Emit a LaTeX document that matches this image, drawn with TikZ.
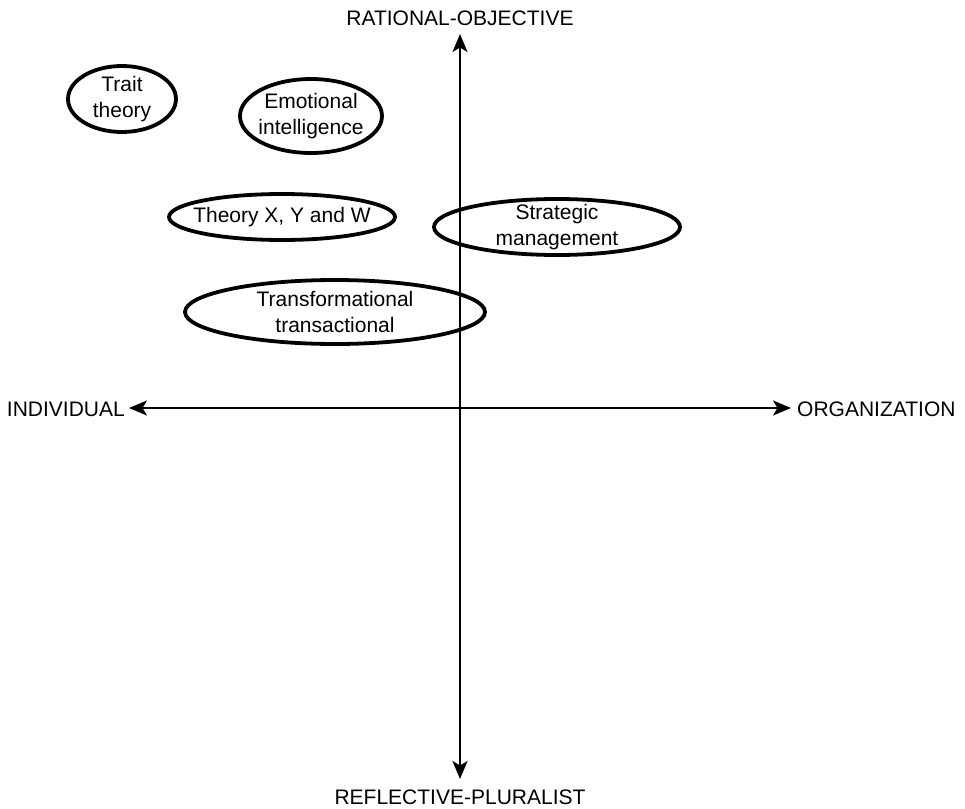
\documentclass[tikz,border=0pt]{standalone}
\usepackage{fontspec}
\setmainfont{Liberation Sans}
\usetikzlibrary{arrows.meta}
\begin{document}
\begin{tikzpicture}[x=1pt,y=-1pt,
  lbl/.style={font=\fontsize{21}{26}\selectfont, inner sep=0pt},
  txt/.style={inner sep=0pt, align=center, font=\fontsize{21}{26}\selectfont},
  ring/.style={line width=3.8pt},
  axis/.style={line width=2.2pt, -{Stealth[length=18pt,width=15pt,inset=4.5pt]}}]
\useasboundingbox (0,0) rectangle (965,808);
% axes
\coordinate (c) at (460,408);
\coordinate (top) at (460,34);
\coordinate (bot) at (460,779);
\coordinate (lft) at (129,408);
\coordinate (rgt) at (791,408);
\draw[axis] (c) -- (top);
\draw[axis] (c) -- (bot);
\draw[axis] (c) -- (lft);
\draw[axis] (c) -- (rgt);
% axis labels
\node[lbl] (ro) at (460,18) {RATIONAL-OBJECTIVE};
\node[lbl] (rp) at (460,797) {REFLECTIVE-PLURALIST};
\node[lbl, anchor=east] (ind) at (125,409) {INDIVIDUAL};
\node[lbl, anchor=west] (org) at (797,409) {ORGANIZATION};
% theories, each text inside its own ellipse
\node[txt] (trait) at (122,99) {Trait\\theory};
\draw[ring] (trait.center) ellipse [x radius=54, y radius=33];
\node[txt] (ei) at (311,116) {Emotional\\intelligence};
\draw[ring] (ei.center) ellipse [x radius=71, y radius=37];
\node[txt] (xyw) at (282,217) {Theory X, Y and W};
\draw[ring] (xyw.center) ellipse [x radius=113, y radius=23];
\node[txt] (sm) at (557,227) {Strategic\\management};
\draw[ring] (sm.center) ellipse [x radius=123, y radius=28];
\node[txt] (tt) at (335,312) {Transformational\\transactional};
\draw[ring] (tt.center) ellipse [x radius=150, y radius=32];
\end{tikzpicture}
\end{document}
